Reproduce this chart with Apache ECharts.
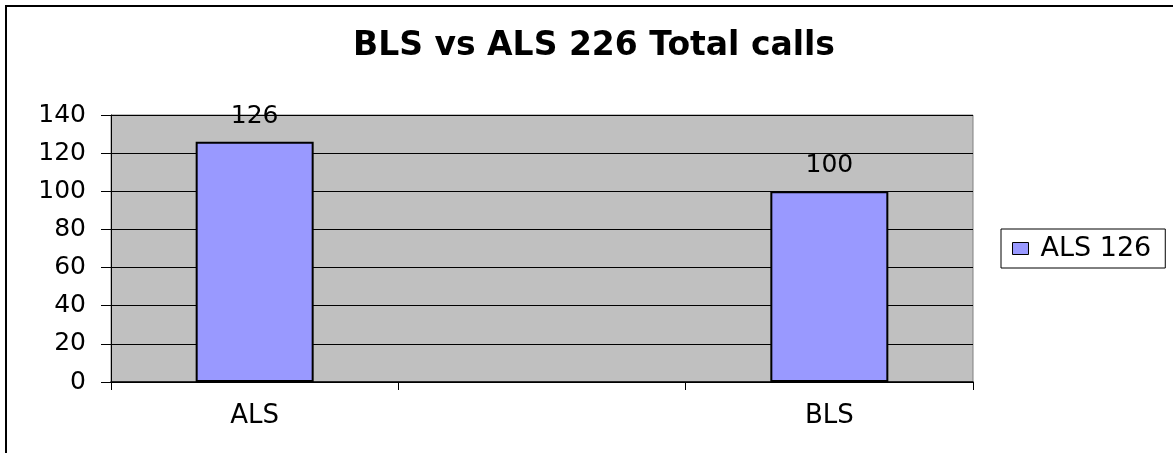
<!DOCTYPE html>
<html>
<head>
<meta charset="utf-8">
<script src="https://cdn.jsdelivr.net/npm/echarts@6/dist/echarts.min.js"></script>
<style>
  html, body { margin: 0; padding: 0; background: #fff; }
  #chart { width: 1173px; height: 453px; }
</style>
</head>
<body>
<div id="chart"></div>
<script>
// chart data
var categories = ['ALS', '', 'BLS']
var seriesName = 'ALS 126'
var values = [126, null, 100]
var yTicks = [0, 20, 40, 60, 80, 100, 120, 140]

var font = 'DejaVu Sans'
var myChart = echarts.init(document.getElementById('chart'))

myChart.setOption({
  backgroundColor: '#fff',
  animation: false,
  title: {
    text: 'BLS vs ALS 226 Total calls',
    left: 348,
    top: 25,
    textStyle: { fontFamily: font, fontSize: 33, fontWeight: 'bold', color: '#000' }
  },
  graphic: [
    {
      type: 'rect',
      shape: { x: 6, y: 6, width: 1200, height: 500 },
      style: { fill: 'none', stroke: '#000', lineWidth: 2 },
      z: 100
    }
  ],
  legend: {
    data: [seriesName],
    left: 1001,
    top: 229,
    padding: [6, 14, 6, 11],
    backgroundColor: '#fff',
    borderColor: '#000',
    borderWidth: 1,
    itemWidth: 16,
    itemHeight: 12,
    icon: 'rect',
    itemStyle: { borderColor: '#000', borderWidth: 1 },
    textStyle: { fontFamily: font, fontSize: 27, color: '#000', padding: [0, 0, 0, 7] }
  },
  grid: {
    left: 111,
    right: 200,
    top: 115,
    bottom: 71,
    show: true,
    backgroundColor: '#C0C0C0',
    borderColor: '#808080',
    borderWidth: 1
  },
  xAxis: {
    type: 'category',
    data: categories,
    boundaryGap: true,
    axisLine: { lineStyle: { color: '#000', width: 1.5 } },
    axisTick: { show: true, length: 8, lineStyle: { color: '#000' } },
    axisLabel: { margin: 21, fontFamily: font, fontSize: 26, color: '#000' },
    splitLine: { show: false }
  },
  yAxis: {
    type: 'value',
    min: yTicks[0],
    max: yTicks[yTicks.length - 1],
    interval: 20,
    axisLine: { show: true, lineStyle: { color: '#000', width: 1 } },
    axisTick: { show: true, length: 10, lineStyle: { color: '#000' } },
    axisLabel: { margin: 25, fontFamily: font, fontSize: 25, color: '#000' },
    splitLine: { show: true, lineStyle: { color: '#000', width: 1 } }
  },
  series: [
    {
      name: seriesName,
      type: 'bar',
      data: values,
      barWidth: 118,
      itemStyle: { color: '#9999FF', borderColor: '#000', borderWidth: 2 },
      label: {
        show: true,
        position: 'top',
        distance: 13,
        fontFamily: font,
        fontSize: 25,
        color: '#000'
      }
    }
  ]
})
</script>
</body>
</html>
